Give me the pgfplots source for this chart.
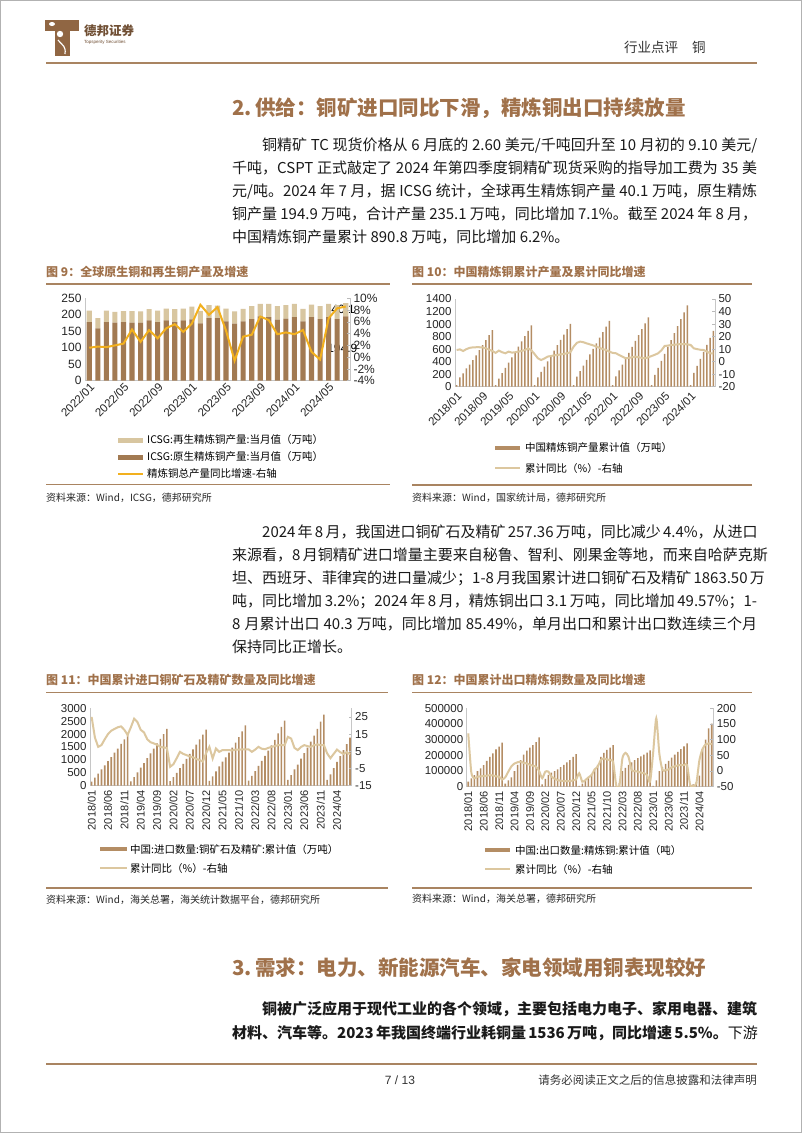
\documentclass[border=0pt]{standalone}
\usepackage{fontspec}
\setmainfont{Noto Sans CJK SC}
\newfontfamily\arial{Liberation Sans}
\usepackage{pgfplots}
\pgfplotsset{compat=1.18}
\XeTeXlinebreaklocale "zh"
\XeTeXlinebreakskip=0pt plus 1.5pt minus 0.4pt

\definecolor{brn}{HTML}{A0714A}
\definecolor{rulec}{HTML}{A98461}
\definecolor{cdark}{HTML}{A27A52}
\definecolor{clight}{HTML}{D8C6A0}
\definecolor{cgold}{HTML}{F2B01E}
\definecolor{cbar}{HTML}{B48D64}
\definecolor{cline}{HTML}{DCC79F}
\definecolor{txt}{HTML}{1A1A1A}

\newcommand\bodyf{\fontsize{15}{18}\selectfont}
\newcommand\tickf{\arial\fontsize{11.5}{12}\selectfont}
\newcommand\legf{\fontsize{10.5}{12}\selectfont}
\newcommand\srcf{\fontsize{10}{12}\selectfont}
\newcommand\titf{\bfseries\fontsize{12}{14}\selectfont}
\newcommand\secf{\bfseries\fontsize{20.5}{24}\selectfont}
\newcommand\fline[4]{\node[anchor=base west,inner sep=0pt,text=txt] at (#1,#2) {\bodyf\hbox to #3pt{#4}};}
\newcommand\pline[3]{\node[anchor=base west,inner sep=0pt,text=txt] at (#1,#2) {\bodyf #3};}

\pgfplotsset{
  every axis/.append style={scale only axis, anchor=south west, enlargelimits=false, clip=false,
    axis line style={draw=gray!45, line width=0.6pt},
    major tick length=3pt, tick style={draw=gray!55, line width=0.5pt},
    ticklabel style={font=\tickf, text=black!85},
    /pgf/number format/assume math mode=true,
    /pgf/number format/1000 sep={}},
}

\begin{document}
\begin{tikzpicture}
\useasboundingbox (0,0) rectangle (802pt,-1133pt);
\fill[white] (0,0) rectangle (802pt,-1133pt);
\draw[gray!60, line width=1pt] (0.5pt,-0.5pt) rectangle (801.5pt,-1132.5pt);

\begin{scope}[x=1pt,y=-1pt]
% ---------- header ----------
\fill[brn!90!black] (45,20) rectangle (79,31);
\fill[brn!90!black] (55,20) rectangle (70,56);
\fill[white] (60,34) circle (3.2);
\fill[white] (52,24) ellipse (3 and 2);
\draw[white, line width=1.2] (58,40) .. controls (63,46) and (66,46) .. (65,54);
\node[anchor=west,inner sep=0,text=brn!70!black] at (84,31) {\bfseries\fontsize{12.5}{14}\selectfont 德邦证券};
\node[anchor=west,inner sep=0,text=brn!70!black] at (84,42) {\arial\fontsize{4.5}{5}\selectfont Topsperity Securities};
\node[anchor=west,inner sep=0,text=black!80] at (624,47) {\fontsize{13.5}{15}\selectfont 行业点评\hspace{14pt}铜};
\draw[rulec, line width=2.2] (46,63) -- (757,63);

% ---------- section 2 ----------
\node[anchor=base west,inner sep=0,text=brn] at (232,115.5) {\secf 2.\,供给：铜矿进口同比下滑，精炼铜出口持续放量};
\fline{262}{150.5}{495}{铜精矿 TC 现货价格从 6 月底的 2.60 美元/千吨回升至 10 月初的 9.10 美元/}
\fline{232}{173.5}{525}{千吨，CSPT 正式敲定了 2024 年第四季度铜精矿现货采购的指导加工费为 35 美}
\fline{232}{196.5}{525}{元/吨。2024 年 7 月，据 ICSG 统计，全球再生精炼铜产量 40.1 万吨，原生精炼}
\fline{232}{219.5}{525}{铜产量 194.9 万吨，合计产量 235.1 万吨，同比增加 7.1\%。截至 2024 年 8 月，}
\pline{232}{242.5}{中国精炼铜产量累计 890.8 万吨，同比增加 6.2\%。}

% ---------- chart titles & rules ----------
\node[anchor=base west,inner sep=0,text=brn] at (46,276.5) {\titf 图 9：全球原生铜和再生铜产量及增速};
\node[anchor=base west,inner sep=0,text=brn] at (412,276.5) {\titf 图 10：中国精炼铜累计产量及累计同比增速};
\draw[rulec, line width=1.3] (46,284) -- (390,284);
\draw[rulec, line width=1.3] (412,284) -- (752,284);
\draw[rulec, line width=1.3] (46,484.5) -- (390,484.5);
\draw[rulec, line width=1.3] (412,485) -- (752,485);
\node[anchor=base west,inner sep=0,text=black!85] at (46,501) {\srcf 资料来源：Wind，ICSG，德邦研究所};
\node[anchor=base west,inner sep=0,text=black!85] at (412,501) {\srcf 资料来源：Wind，国家统计局，德邦研究所};

% legends 9
\fill[clight] (118,437.5) rectangle (143,442.5);
\node[anchor=west,inner sep=0] at (147,440) {\legf ICSG:再生精炼铜产量:当月值（万吨）};
\fill[cdark] (118,454.5) rectangle (143,459.5);
\node[anchor=west,inner sep=0] at (147,457) {\legf ICSG:原生精炼铜产量:当月值（万吨）};
\draw[cgold, line width=2] (118,474) -- (143,474);
\node[anchor=west,inner sep=0] at (147,474) {\legf 精炼铜总产量同比增速-右轴};
% legends 10
\fill[cbar] (495,445.5) rectangle (520,450);
\node[anchor=west,inner sep=0] at (525,447.7) {\legf 中国精炼铜产量累计值（万吨）};
\draw[cline, line width=2] (495,468.3) -- (520,468.3);
\node[anchor=west,inner sep=0] at (525,468.3) {\legf 累计同比（\%）-右轴};

% ---------- paragraph 2 ----------
\fline{262}{537.5}{495}{2024 年 8 月，我国进口铜矿石及精矿 257.36 万吨，同比减少 4.4\%，从进口}
\fline{232}{560.5}{525}{来源看，8 月铜精矿进口增量主要来自秘鲁、智利、刚果金等地，而来自哈萨克斯}
\fline{232}{583.5}{525}{坦、西班牙、菲律宾的进口量减少；1-8 月我国累计进口铜矿石及精矿 1863.50 万}
\fline{232}{606.5}{525}{吨，同比增加 3.2\%；2024 年 8 月，精炼铜出口 3.1 万吨，同比增加 49.57\%；1-}
\fline{232}{629.5}{525}{8 月累计出口 40.3 万吨，同比增加 85.49\%，单月出口和累计出口数连续三个月}
\pline{232}{652.5}{保持同比正增长。}

\node[anchor=base west,inner sep=0,text=brn] at (46,684.5) {\titf 图 11：中国累计进口铜矿石及精矿数量及同比增速};
\node[anchor=base west,inner sep=0,text=brn] at (412,684.5) {\titf 图 12：中国累计出口精炼铜数量及同比增速};
\draw[rulec, line width=1.3] (46,692.5) -- (388,692.5);
\draw[rulec, line width=1.3] (412,692.5) -- (752,692.5);
\draw[rulec, line width=1.3] (46,888) -- (388,888);
\draw[rulec, line width=1.3] (412,888) -- (752,888);
\node[anchor=base west,inner sep=0,text=black!85] at (46,903.5) {\srcf 资料来源：Wind，海关总署，海关统计数据平台，德邦研究所};
\node[anchor=base west,inner sep=0,text=black!85] at (412,902) {\srcf 资料来源：Wind，海关总署，德邦研究所};

% legends 11
\fill[cbar] (100,846.8) rectangle (127,851.3);
\node[anchor=west,inner sep=0] at (130,849) {\legf 中国:进口数量:铜矿石及精矿:累计值（万吨）};
\draw[cline, line width=2] (100,868.3) -- (127,868.3);
\node[anchor=west,inner sep=0] at (130,868.3) {\legf 累计同比（\%）-右轴};
% legends 12
\fill[cbar] (485,847.8) rectangle (510,852.3);
\node[anchor=west,inner sep=0] at (515,850) {\legf 中国:出口数量:精炼铜:累计值（吨）};
\draw[cline, line width=2] (485,869) -- (510,869);
\node[anchor=west,inner sep=0] at (515,869) {\legf 累计同比（\%）-右轴};

% ---------- section 3 ----------
\node[anchor=base west,inner sep=0,text=brn] at (232,975.5) {\secf 3.\,需求：电力、新能源汽车、家电领域用铜表现较好};
\fline{262}{1014}{495}{\bfseries 铜被广泛应用于现代工业的各个领域，主要包括电力电子、家用电器、建筑}
\fline{232}{1038}{525}{\bfseries 材料、汽车等。2023 年我国终端行业耗铜量 1536 万吨，同比增速 5.5\%。{\mdseries 下游}}

% ---------- footer ----------
\draw[rulec, line width=2.2] (46,1064) -- (757,1064);
\node[inner sep=0,text=black!80] at (400,1080) {\arial\fontsize{12}{14}\selectfont 7 / 13};
\node[anchor=east,inner sep=0,text=black!80] at (757,1080) {\fontsize{11.5}{13}\selectfont 请务必阅读正文之后的信息披露和法律声明};
\end{scope}

% ================= chart 9 =================
\begin{axis}[at={(85pt,-380.7pt)}, width=265pt, height=82.4pt,
  xmin=-0.5, xmax=30.5, ymin=0, ymax=250, ytick={0,50,100,150,200,250},
  axis y line*=left, axis x line*=bottom, ytick style={draw=none},
  xtick={0,4,...,28},
  xticklabels={2022/01,2022/05,2022/09,2023/01,2023/05,2023/09,2024/01,2024/05},
  xticklabel style={rotate=45, anchor=north east, inner sep=1pt, font=\arial\fontsize{11.5}{12}\selectfont},
  yticklabel style={font=\arial\fontsize{12}{12}\selectfont},
  ybar stacked, bar width=0.6]
\addplot[fill=cdark, draw=none] table[x expr=\coordindex, y index=0, header=false, row sep=\\]
{178\\159\\178\\176\\178\\176\\176\\183\\178\\183\\178\\183\\186\\174\\190\\190\\180\\173\\180\\187\\195\\193\\185\\188\\193\\180\\193\\187\\193\\187\\194.9\\};
\addplot[fill=clight, draw=none] table[x expr=\coordindex, y index=0, header=false, row sep=\\]
{35\\31\\35\\33\\33\\35\\34\\34\\35\\36\\39\\36\\39\\38\\39\\38\\39\\37\\38\\39\\38\\40\\41\\41\\40\\38\\38\\39\\40\\42\\40.1\\};
\node[font=\arial\fontsize{12}{12}\selectfont, inner sep=0] at (axis cs:29.6,97.45) {194.9};
\node[font=\arial\fontsize{12}{12}\selectfont, inner sep=0] at (axis cs:29.7,215) {40.1};
\end{axis}
\begin{axis}[at={(85pt,-380.7pt)}, width=265pt, height=82.4pt,
  xmin=-0.5, xmax=30.5, ymin=-4, ymax=10, ytick={-4,-2,...,10},
  axis y line*=right, axis x line=none,
  yticklabel style={font=\arial\fontsize{12}{12}\selectfont},
  yticklabel={\pgfmathprintnumber{\tick}\%}]
\addplot[cgold, line width=2pt] table[x expr=\coordindex, y index=0, header=false, row sep=\\]
{1.6\\1.8\\1.7\\2.0\\2.3\\4.7\\2.6\\4.6\\3.2\\4.9\\5.6\\4.3\\5.7\\8.9\\7.2\\8.5\\4.5\\-0.6\\3.5\\3.8\\6.9\\6.3\\3.9\\4.2\\3.9\\4.6\\0.9\\-0.4\\6.6\\8.3\\8.6\\};
\end{axis}

% ================= chart 10 =================
\begin{axis}[at={(455pt,-386.7pt)}, width=260pt, height=87.7pt,
  xmin=-0.5, xmax=79.5, ymin=0, ymax=1400, ytick={0,200,...,1400},
  axis y line*=left, axis x line*=bottom, ytick style={draw=none}, xtick style={draw=none},
  xtick={0,8,...,72},
  xticklabels={2018/01,2018/09,2019/05,2020/01,2020/09,2021/05,2022/01,2022/09,2023/05,2024/01},
  xticklabel style={rotate=45, anchor=north east, inner sep=1pt},
  ybar, bar width=0.5]
\addplot[fill=cbar, draw=none] table[x expr=\coordindex, y index=0, header=false, row sep=\\]
{25\\149\\213\\293\\351\\426\\500\\585\\665\\745\\825\\904\\
25\\130\\215\\300\\384\\469\\554\\639\\724\\808\\893\\978\\
25\\150\\235\\321\\406\\491\\577\\662\\747\\832\\918\\1003\\
25\\160\\249\\338\\427\\516\\605\\693\\782\\871\\960\\1049\\
25\\165\\259\\353\\447\\541\\636\\730\\824\\918\\1012\\1106\\
25\\190\\301\\412\\523\\634\\745\\855\\966\\1077\\1188\\1299\\
25\\220\\332\\444\\555\\667\\779\\891\\};
\end{axis}
\begin{axis}[at={(455pt,-386.7pt)}, width=260pt, height=87.7pt,
  xmin=-0.5, xmax=79.5, ymin=-20, ymax=50, ytick={-20,-10,...,50},
  axis y line*=right, axis x line=none]
\addplot[cline, line width=2pt] table[x expr=\coordindex, y index=0, header=false, row sep=\\]
{9.3\\9.8\\8.5\\10\\11\\11.4\\11.5\\11.5\\11.3\\10.6\\9.6\\8.5\\
7\\8.8\\7.5\\6.7\\8\\7.2\\7.5\\8\\8.5\\9.3\\10.6\\9\\
6\\2.7\\1.3\\2.5\\4\\4.5\\5\\5.3\\5.8\\6.2\\6.7\\7.5\\
12\\15\\16\\15.5\\14.6\\13.8\\13\\12\\11\\10\\9.3\\8\\
7\\6.7\\5.3\\4\\2.7\\3\\3.5\\4\\3.5\\3\\2.7\\3.5\\
4.5\\5.5\\6.7\\9\\12.5\\12.8\\13.3\\13.5\\13.8\\14\\14\\13.8\\
13.3\\10.6\\10\\9.5\\9.3\\8\\6.7\\6.5\\};
\end{axis}

% ================= chart 11 =================
\begin{axis}[at={(90pt,-785.7pt)}, width=261.7pt, height=77.4pt,
  xmin=-0.5, xmax=79.5, ymin=0, ymax=3000, ytick={0,500,...,3000},
  axis y line*=left, axis x line*=bottom, ytick style={draw=none}, xtick style={draw=none},
  xtick={0,5,...,75},
  xticklabels={2018/01,2018/06,2018/11,2019/04,2019/09,2020/02,2020/07,2020/12,2021/05,2021/10,2022/03,2022/08,2023/01,2023/06,2023/11,2024/04},
  xticklabel style={rotate=90, anchor=east, inner sep=1.5pt, font=\arial\fontsize{11}{11}\selectfont},
  ybar, bar width=0.5]
\addplot[fill=cbar, draw=none] table[x expr=\coordindex, y index=0, header=false, row sep=\\]
{160\\310\\470\\630\\790\\950\\1110\\1280\\1440\\1620\\1800\\1970\\
170\\330\\520\\700\\880\\1070\\1250\\1440\\1640\\1820\\2000\\2199\\
180\\330\\500\\680\\850\\1040\\1230\\1410\\1590\\1800\\1980\\2176\\
190\\360\\560\\750\\930\\1100\\1280\\1480\\1670\\1880\\2110\\2340\\
200\\380\\570\\770\\960\\1160\\1360\\1560\\1780\\2030\\2280\\2527\\
230\\410\\630\\820\\1050\\1260\\1480\\1710\\1940\\2200\\2480\\2754\\
230\\440\\680\\920\\1150\\1380\\1610\\1864\\};
\end{axis}
\begin{axis}[at={(90pt,-785.7pt)}, width=261.7pt, height=77.4pt,
  xmin=-0.5, xmax=79.5, ymin=-15, ymax=30, ytick={-15,-5,5,15,25},
  axis y line*=right, axis x line=none]
\addplot[cline, line width=2pt] table[x expr=\coordindex, y index=0, header=false, row sep=\\]
{25\\13\\7.6\\8.6\\12\\15\\17\\18\\19\\19.5\\17.5\\14.5\\
19\\24\\22\\17.5\\16\\12\\10.3\\9.6\\8.8\\7.6\\7.2\\7\\
-4\\-2.5\\1\\4.7\\3.5\\2.8\\2\\1.5\\0.5\\0\\-1\\4\\
7.6\\0.8\\6.6\\4.7\\5.7\\5.7\\5.7\\5.5\\6\\6\\6.1\\6.1\\
6.1\\4.7\\6\\7.6\\6.5\\6.2\\7\\7.6\\8\\8.6\\8.6\\8.6\\
13.4\\12.4\\7\\5.7\\7.5\\8.6\\8\\7.6\\8.5\\9\\8.6\\8.6\\
3.8\\1\\3.5\\6\\4.5\\3.5\\4.5\\3.2\\};
\end{axis}

% ================= chart 12 =================
\begin{axis}[at={(466.7pt,-786.7pt)}, width=246.6pt, height=78.4pt,
  xmin=-0.5, xmax=79.5, ymin=0, ymax=500000, ytick={0,100000,...,500000},
  scaled y ticks=false,
  yticklabel style={/pgf/number format/fixed, /pgf/number format/1000 sep={}},
  axis y line*=left, axis x line*=bottom, ytick style={draw=none}, xtick style={draw=none},
  xtick={0,5,...,75},
  xticklabels={2018/01,2018/06,2018/11,2019/04,2019/09,2020/02,2020/07,2020/12,2021/05,2021/10,2022/03,2022/08,2023/01,2023/06,2023/11,2024/04},
  xticklabel style={rotate=90, anchor=east, inner sep=1.5pt, font=\arial\fontsize{11}{11}\selectfont},
  ybar, bar width=0.5]
\addplot[fill=cbar, draw=none] table[x expr=\coordindex, y index=0, header=false, row sep=\\]
{32000\\53000\\74000\\100000\\117000\\138000\\164000\\191000\\213000\\238000\\255000\\281000\\
20000\\40000\\60000\\100000\\140000\\170000\\205000\\230000\\250000\\265000\\285000\\315000\\
15000\\50000\\75000\\90000\\100000\\110000\\125000\\140000\\155000\\170000\\190000\\208000\\
5000\\20000\\35000\\55000\\80000\\110000\\140000\\190000\\215000\\235000\\250000\\265000\\
3000\\25000\\100000\\120000\\140000\\155000\\170000\\182000\\193000\\205000\\218000\\232000\\
5000\\40000\\100000\\125000\\145000\\165000\\185000\\205000\\222000\\240000\\258000\\277000\\
8000\\15000\\30000\\70000\\240000\\300000\\372000\\403000\\};
\end{axis}
\begin{axis}[at={(466.7pt,-786.7pt)}, width=246.6pt, height=78.4pt,
  xmin=-0.5, xmax=79.5, ymin=-50, ymax=200, ytick={-50,0,...,200},
  axis y line*=right, axis x line=none, clip=true]
\addplot[cline, line width=2pt, smooth, tension=0.4] table[x expr=\coordindex, y index=0, header=false, row sep=\\]
{120\\-5\\-23\\-18\\-17\\-16\\-15\\-13\\-14\\-17\\-18\\-27\\
-20\\-2\\15\\24\\28\\30\\26\\24\\20\\17\\14\\0\\
-23\\-2\\-2\\-18\\-24\\-29\\-31\\-32\\-32\\-32\\-30\\-27\\
-7\\-34\\-29\\-20\\-13\\5\\14\\35\\40\\37\\35\\30\\
-45\\-50\\40\\58\\45\\3\\0\\-2\\-5\\-7\\-13\\-34\\
60\\168\\55\\3\\3\\5\\12\\15\\18\\19\\19\\19\\
-45\\-48\\-39\\35\\70\\85\\88\\85.5\\};
\end{axis}
\end{tikzpicture}
\end{document}
